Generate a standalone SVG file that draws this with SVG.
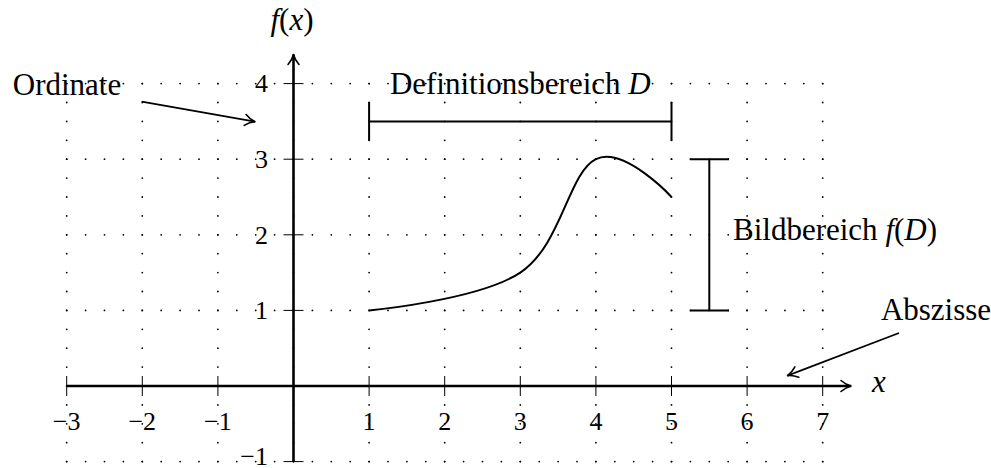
<svg xmlns="http://www.w3.org/2000/svg" width="991" height="468" viewBox="0 0 991 468">
<style>
.grid{stroke:#000;stroke-width:1.8;stroke-linecap:round;stroke-dasharray:0 18.9;fill:none}
.axis{stroke:#000;stroke-width:2.6;fill:none}
.tick{stroke:#000;stroke-width:1;fill:none}
.br{stroke:#000;stroke-width:2;fill:none}
.conn{stroke:#000;stroke-width:1.7;fill:none}
.lbl{font-family:"Liberation Serif",serif;font-size:31px;fill:#000}
.num{font-family:"Liberation Serif",serif;font-size:26px;fill:#000}
.it{font-style:italic}
</style>
<defs>
<marker id="to" markerUnits="userSpaceOnUse" viewBox="-12 -7 14 14" refX="0" refY="0" markerWidth="14" markerHeight="14" orient="auto" overflow="visible">
<path d="M-10,-5.5 C-6,-2 -2.5,-0.6 0,0 C-2.5,0.6 -6,2 -10,5.5" fill="none" stroke="#000" stroke-width="1.6" stroke-linecap="round" stroke-linejoin="round"/>
</marker>
</defs>
<g id="grid" class="grid">
<path d="M66.7,461.6H822.7M66.7,386H822.7M66.7,310.4H822.7M66.7,234.8H822.7M66.7,159.2H822.7M66.7,83.6H822.7"/>
<path d="M66.7,83.6V461.6M142.3,83.6V461.6M217.9,83.6V461.6M293.5,83.6V461.6M369.1,83.6V461.6M444.7,83.6V461.6M520.3,83.6V461.6M595.9,83.6V461.6M671.5,83.6V461.6M747.1,83.6V461.6M822.7,83.6V461.6"/>
</g>
<g id="axes">
<path class="axis" d="M66.7,386H851" marker-end="url(#to)"/>
<path class="axis" d="M293.5,461.6V54.5" marker-end="url(#to)"/>
<path class="tick" d="M66.7,376V396M142.3,376V396M217.9,376V396M369.1,376V396M444.7,376V396M520.3,376V396M595.9,376V396M671.5,376V396M747.1,376V396M822.7,376V396"/>
<path class="tick" d="M283.5,461.6H303.5M283.5,310.4H303.5M283.5,234.8H303.5M283.5,159.2H303.5M283.5,83.6H303.5"/>
</g>
<g id="tick-labels" class="num">
<g text-anchor="middle">
<text x="66.7" y="430">−3</text>
<text x="142.3" y="430">−2</text>
<text x="217.9" y="430">−1</text>
<text x="369.1" y="430">1</text>
<text x="444.7" y="430">2</text>
<text x="520.3" y="430">3</text>
<text x="595.9" y="430">4</text>
<text x="671.5" y="430">5</text>
<text x="747.1" y="430">6</text>
<text x="822.7" y="430">7</text>
</g>
<g text-anchor="end">
<text x="268" y="465">−1</text>
<text x="268" y="319.2">1</text>
<text x="268" y="243.6">2</text>
<text x="268" y="168">3</text>
<text x="268" y="92.4">4</text>
</g>
</g>
<g id="axis-x-label"><text class="lbl it" x="872" y="392">x</text></g>
<g id="axis-y-label"><text class="lbl" x="292" y="30" text-anchor="middle"><tspan class="it">f</tspan>(<tspan class="it">x</tspan>)</text></g>
<g id="curve">
<path d="M369.1,310.4 C369.1,310.4 478.8,300.3 520.3,272.6 C561.8,244.9 568.2,173 595.9,159.2 C623.6,145.4 671.5,197 671.5,197" fill="none" stroke="#000" stroke-width="2"/>
</g>
<g id="definitionsbereich">
<path class="br" d="M369.1,121.4H671.5M369.1,102V140.8M671.5,102V140.8"/>
<text class="lbl" x="520.3" y="94" text-anchor="middle">Definitionsbereich <tspan class="it">D</tspan></text>
</g>
<g id="bildbereich">
<path class="br" d="M709.3,159.2V310.4M690,159.2H729M690,310.4H729"/>
<text class="lbl" x="733" y="240">Bildbereich <tspan class="it">f</tspan>(<tspan class="it">D</tspan>)</text>
</g>
<g id="ordinate"><text class="lbl" x="67" y="95" text-anchor="middle">Ordinate</text></g>
<g id="abszisse"><text class="lbl" x="936" y="320" text-anchor="middle">Abszisse</text></g>
<g id="connectors">
<path class="conn" d="M141.7,101.7L255,121.7" marker-end="url(#to)"/>
<path class="conn" d="M899,333L787.5,375.6" marker-end="url(#to)"/>
</g>
</svg>
